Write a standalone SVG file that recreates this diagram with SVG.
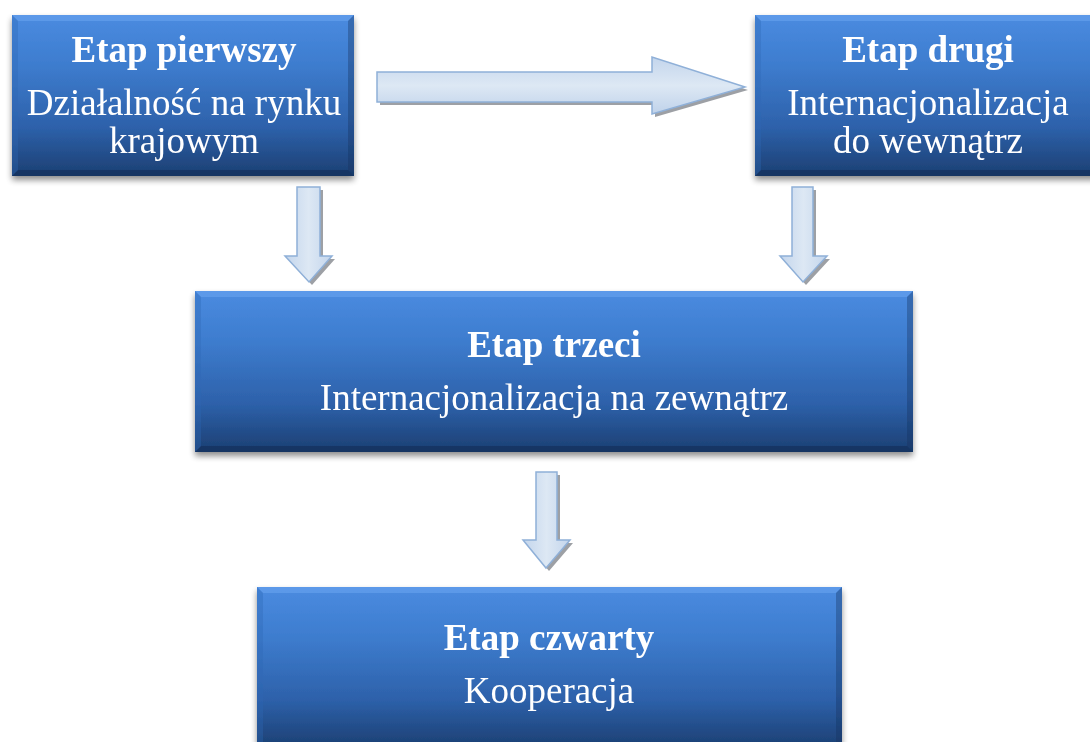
<svg xmlns="http://www.w3.org/2000/svg" width="1090" height="742" viewBox="0 0 1090 742">
<defs>
<linearGradient id="boxg" x1="0" y1="0" x2="0" y2="1">
<stop offset="0" stop-color="#4a8be0"/>
<stop offset="0.3" stop-color="#3e7dcf"/>
<stop offset="0.7" stop-color="#2d61aa"/>
<stop offset="1" stop-color="#1c3f72"/>
</linearGradient>
<linearGradient id="arrg" x1="0" y1="0" x2="1" y2="0">
<stop offset="0" stop-color="#c3d5ec"/>
<stop offset="0.5" stop-color="#dde8f4"/>
<stop offset="1" stop-color="#c3d5ec"/>
</linearGradient>
<linearGradient id="arrgh" x1="0" y1="0" x2="0" y2="1">
<stop offset="0" stop-color="#c3d5ec"/>
<stop offset="0.5" stop-color="#dde8f4"/>
<stop offset="1" stop-color="#bfd2ea"/>
</linearGradient>
<filter id="sh" x="-10%" y="-10%" width="120%" height="130%">
<feGaussianBlur in="SourceAlpha" stdDeviation="3"/>
<feOffset dx="0" dy="4" result="b"/>
<feComponentTransfer><feFuncA type="linear" slope="0.45"/></feComponentTransfer>
<feMerge><feMergeNode/><feMergeNode in="SourceGraphic"/></feMerge>
</filter>
</defs>
<style>
.box{fill:url(#boxg);}
.bt{fill:#6aa6f0;opacity:0.55;}
.bb{fill:#0f2a52;opacity:0.5;}
.bl{fill:#2f68b4;opacity:0.35;}
.br{fill:#14305c;opacity:0.35;}
.t{font-family:"Liberation Serif","Times New Roman",serif;fill:#ffffff;text-anchor:middle;font-size:37px;}
.tb{font-weight:bold;}
.arr{stroke:#8fb0d8;stroke-width:1.5;}
.ash{fill:#8c8f95;opacity:0.85;}
</style>

<g id="connectors">
<g id="arrow-1-2">
<polygon class="ash" points="380,75 655,75 655,60 748,90 655,117 655,105 380,105"/>
<polygon class="arr" fill="url(#arrgh)" points="377,72 652,72 652,57 745,87 652,114 652,102 377,102"/>
</g>
<g id="arrow-1-3">
<polygon class="ash" points="300,190 323,190 323,259 335,259 312,285 288,259 300,259"/>
<polygon class="arr" fill="url(#arrg)" points="297,187 320,187 320,256 332,256 309,282 285,256 297,256"/>
</g>
<g id="arrow-2-3">
<polygon class="ash" points="795,190 816,190 816,259 830,259 806,285 783,259 795,259"/>
<polygon class="arr" fill="url(#arrg)" points="792,187 813,187 813,256 827,256 803,282 780,256 792,256"/>
</g>
<g id="arrow-3-4">
<polygon class="ash" points="539,475 560,475 560,543 573,543 549,571 526,543 539,543"/>
<polygon class="arr" fill="url(#arrg)" points="536,472 557,472 557,540 570,540 546,568 523,540 536,540"/>
</g>
</g>

<g id="node-1" filter="url(#sh)">
<rect class="box" x="12" y="15" width="342" height="161"/>
<polygon class="bt" points="12,15 354,15 348,21 18,21"/>
<polygon class="bb" points="12,176 354,176 348,170 18,170"/>
<polygon class="bl" points="12,15 18,21 18,170 12,176"/>
<polygon class="br" points="354,15 348,21 348,170 354,176"/>
<text class="t tb" x="184" y="62">Etap pierwszy</text>
<text class="t" x="184" y="115">Działalność na rynku</text>
<text class="t" x="184" y="153">krajowym</text>
</g>

<g id="node-2" filter="url(#sh)">
<rect class="box" x="755" y="15" width="345" height="161"/>
<polygon class="bt" points="755,15 1100,15 1094,21 761,21"/>
<polygon class="bb" points="755,176 1100,176 1094,170 761,170"/>
<polygon class="bl" points="755,15 761,21 761,170 755,176"/>
<text class="t tb" x="928" y="62">Etap drugi</text>
<text class="t" x="928" y="115">Internacjonalizacja</text>
<text class="t" x="928" y="153">do wewnątrz</text>
</g>

<g id="node-3" filter="url(#sh)">
<rect class="box" x="195" y="291" width="718" height="161"/>
<polygon class="bt" points="195,291 913,291 907,297 201,297"/>
<polygon class="bb" points="195,452 913,452 907,446 201,446"/>
<polygon class="bl" points="195,291 201,297 201,446 195,452"/>
<polygon class="br" points="913,291 907,297 907,446 913,452"/>
<text class="t tb" x="554" y="357">Etap trzeci</text>
<text class="t" x="554" y="410">Internacjonalizacja na zewnątrz</text>
</g>

<g id="node-4" filter="url(#sh)">
<rect class="box" x="257" y="587" width="585" height="161"/>
<polygon class="bt" points="257,587 842,587 836,593 263,593"/>
<polygon class="bl" points="257,587 263,593 263,748 257,748"/>
<polygon class="br" points="842,587 836,593 836,748 842,748"/>
<text class="t tb" x="549" y="650">Etap czwarty</text>
<text class="t" x="549" y="703">Kooperacja</text>
</g>
</svg>
